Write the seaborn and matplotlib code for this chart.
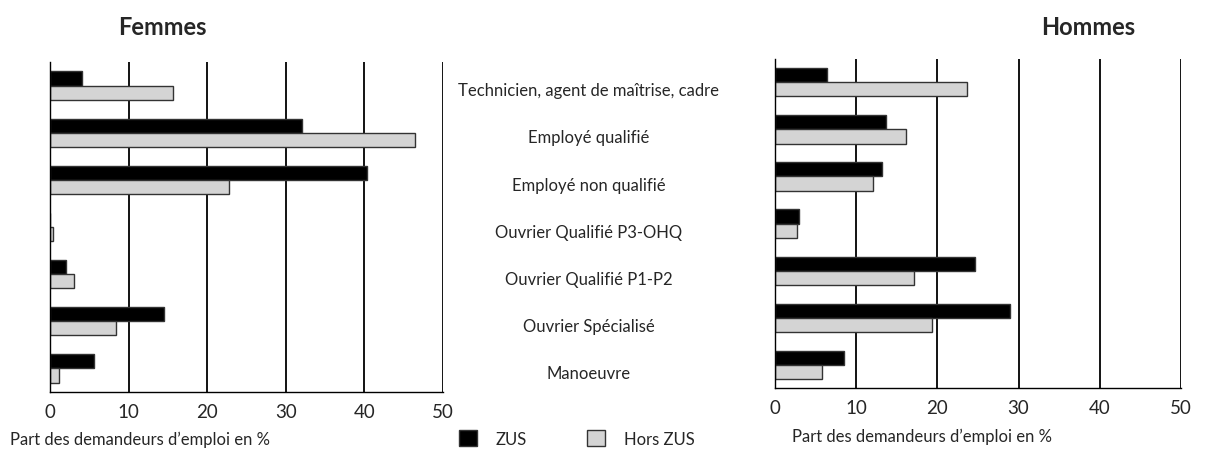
import numpy as np
import pandas as pd
import matplotlib
matplotlib.use("Agg")
import matplotlib.pyplot as plt
import matplotlib.transforms as mtransforms
from matplotlib.patches import Patch
import seaborn as sns

# Data
categories = ["Technicien, agent de maîtrise, cadre", "Employé qualifié", "Employé non qualifié",
              "Ouvrier Qualifié P3-OHQ", "Ouvrier Qualifié P1-P2", "Ouvrier Spécialisé", "Manoeuvre"]
groups = ["ZUS", "Hors ZUS"]
femmes_zus = [4.1, 32.1, 40.3, 0.0, 2.0, 14.5, 5.6]
femmes_hors = [15.6, 46.5, 22.8, 0.4, 3.1, 8.4, 1.1]
hommes_zus = [6.4, 13.7, 13.2, 2.9, 24.6, 29.0, 8.5]
hommes_hors = [23.7, 16.1, 12.1, 2.7, 17.1, 19.4, 5.8]
x_ticks = [0, 10, 20, 30, 40, 50]

colors = {"ZUS": "black", "Hors ZUS": "#d4d4d4"}

sns.set_style("white")
plt.rcParams["font.family"] = ["Lato", "DejaVu Sans"]


def make_df(zus, hors):
    df = pd.DataFrame({"Catégorie": categories * 2,
                       "Groupe": ["ZUS"] * len(categories) + ["Hors ZUS"] * len(categories),
                       "Part": zus + hors})
    return df


def draw_panel(ax, df, title, title_x):
    sns.barplot(data=df, y="Catégorie", x="Part", hue="Groupe", hue_order=groups,
                order=categories, palette=colors, width=0.6, orient="h",
                edgecolor="#333333", linewidth=1, legend=False, ax=ax)
    ax.set_xlim(0, 50)
    ax.set_ylim(6.5, -0.5)
    for v in x_ticks[1:]:
        ax.axvline(v, color="black", lw=1.3, zorder=0)
    ax.set_xticks(x_ticks)
    ax.set_xticklabels([str(v) for v in x_ticks], fontsize=13.5)
    ax.set_yticks(np.arange(-0.5, 7, 1))
    ax.set_yticklabels([])
    ax.tick_params(axis="y", length=7, width=1, color="#555555")
    ax.tick_params(axis="x", length=4, width=1, pad=4)
    for side in ["top", "right"]:
        ax.spines[side].set_visible(False)
    for side in ["left", "bottom"]:
        ax.spines[side].set_color("black")
        ax.spines[side].set_linewidth(1)
    ax.set_xlabel("")
    ax.set_ylabel("")
    ax.figure.text(title_x, 0.94, title, fontsize=17, fontweight="bold", ha="center", va="center")


fig = plt.figure(figsize=(12.09, 4.52), dpi=100)
ax1 = fig.add_axes([0.0414, 0.1305, 0.325, 0.730])
ax2 = fig.add_axes([0.641, 0.1387, 0.3358, 0.729])

draw_panel(ax1, make_df(femmes_zus, femmes_hors), "Femmes", 0.134)
draw_panel(ax2, make_df(hommes_zus, hommes_hors), "Hommes", 0.90)

# category labels in the middle
trans = mtransforms.blended_transform_factory(fig.transFigure, ax1.transData)
for i, cat in enumerate(categories):
    ax1.text(0.487, i + 0.1, cat, transform=trans, ha="center", va="center", fontsize=12)

fig.text(0.008, 0.027, "Part des demandeurs d\u2019emploi en %", fontsize=12, ha="left", va="center")
fig.text(0.655, 0.034, "Part des demandeurs d\u2019emploi en %", fontsize=12, ha="left", va="center")

handles = [Patch(facecolor=colors[g], edgecolor="#333333", label=g) for g in groups]
fig.legend(handles=handles, loc="center", bbox_to_anchor=(0.477, 0.027), ncol=2, frameon=False,
           fontsize=12, handlelength=1.1, handleheight=1.1, columnspacing=3.6, handletextpad=1.1)

fig.savefig("out.png", dpi=100)
